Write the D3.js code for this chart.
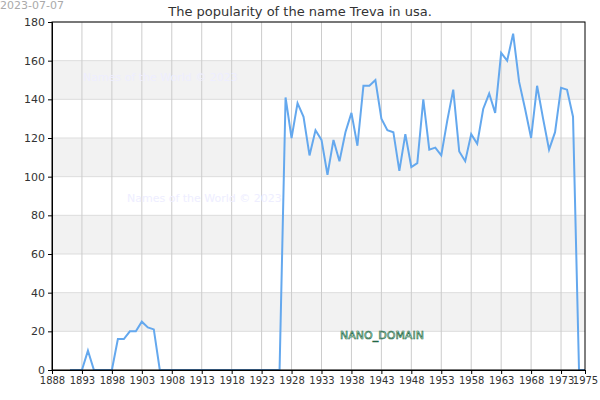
<!DOCTYPE html>
<html><head><meta charset="utf-8">
<script src="https://cdn.jsdelivr.net/npm/d3@7"></script>
<style>body{margin:0;background:#fff}text{font-family:"DejaVu Sans",sans-serif}</style>
</head><body><svg id="c" width="600" height="400"></svg>
<script>
const years = d3.range(1891, 1978);
const values = [0,0,0,10,0,0,0,0,16,16,20,20,25,22,21,0,
0,0,0,0,0,0,0,0,0,0,0,0,0,0,0,0,0,0,0,0,
141,120,138,131,111,124,119,101,119,108,123,133,116,147,147,150,130,124,123,103,122,105,107,140,114,115,111,129,145,113,108,122,117,135,143,133,164,160,174,149,135,120,147,130,114,123,146,145,131,0,0];
const xTicks = d3.range(1888, 1975, 5);
const yTicks = d3.range(0, 181, 20);
const title = "The popularity of the name Treva in usa.";

const svg = d3.select("#c");
const m = {l:52, r:15, t:22, b:30};
const W = 600, H = 400;
const x = d3.scaleLinear().domain([1888, 1977]).range([m.l, W - m.r]);
const y = d3.scaleLinear().domain([0, 180]).range([H - m.b, m.t]);

const bands = [[20,40],[60,80],[100,120],[140,160]];
svg.selectAll("rect.band").data(bands).enter().append("rect")
  .attr("x", m.l).attr("width", W - m.r - m.l)
  .attr("y", d => y(d[1])).attr("height", d => y(d[0]) - y(d[1]))
  .attr("fill", "#f2f2f2");
svg.selectAll("line.hg").data(yTicks).enter().append("line")
  .attr("x1", m.l).attr("x2", W - m.r).attr("y1", d => y(d)).attr("y2", d => y(d))
  .attr("stroke", "#ddd");
svg.selectAll("line.vg").data(xTicks.slice(1)).enter().append("line")
  .attr("x1", d => x(d)).attr("x2", d => x(d)).attr("y1", m.t).attr("y2", H - m.b)
  .attr("stroke", "#ccc");

svg.append("text").attr("x", 83).attr("y", 81).attr("font-size", 11).attr("fill", "#eef").text("Names of the World © 2023");
svg.append("text").attr("x", 127).attr("y", 202).attr("font-size", 11).attr("fill", "#eef").text("Names of the World © 2023");

const line = d3.line().x((d, i) => x(years[i])).y(d => y(d));
svg.append("path").datum(values).attr("d", line).attr("fill", "none")
  .attr("stroke", "#64a8ee").attr("stroke-width", 2);

svg.append("text").attr("x", 382).attr("y", 339).attr("text-anchor", "middle")
  .attr("font-size", 11).attr("fill", "#dfe").attr("stroke", "#264").attr("stroke-width", 0.6)
  .text("NANO_DOMAIN");

svg.append("rect").attr("x", m.l).attr("y", m.t).attr("width", W - m.r - m.l).attr("height", H - m.b - m.t)
  .attr("fill", "none").attr("stroke", "#000");

const ya = svg.append("g").attr("transform", `translate(${m.l},0)`)
  .call(d3.axisLeft(y).tickValues(yTicks).tickSize(4));
ya.selectAll("text").attr("font-size", 11).attr("fill", "#333");
const xa = svg.append("g").attr("transform", `translate(0,${H - m.b})`)
  .call(d3.axisBottom(x).tickValues(xTicks.concat([1977])).tickFormat((d, i) => i < xTicks.length ? d : 1975).tickSize(4));
xa.selectAll("text").attr("font-size", 10).attr("fill", "#333");
svg.selectAll(".domain").attr("stroke", "#000");

svg.append("text").attr("x", 300).attr("y", 16).attr("text-anchor", "middle")
  .attr("font-size", 13).attr("fill", "#333").text(title);
svg.append("text").attr("x", 0).attr("y", 9).attr("font-size", 11).attr("fill", "#aaa").text("2023-07-07");
</script></body></html>
